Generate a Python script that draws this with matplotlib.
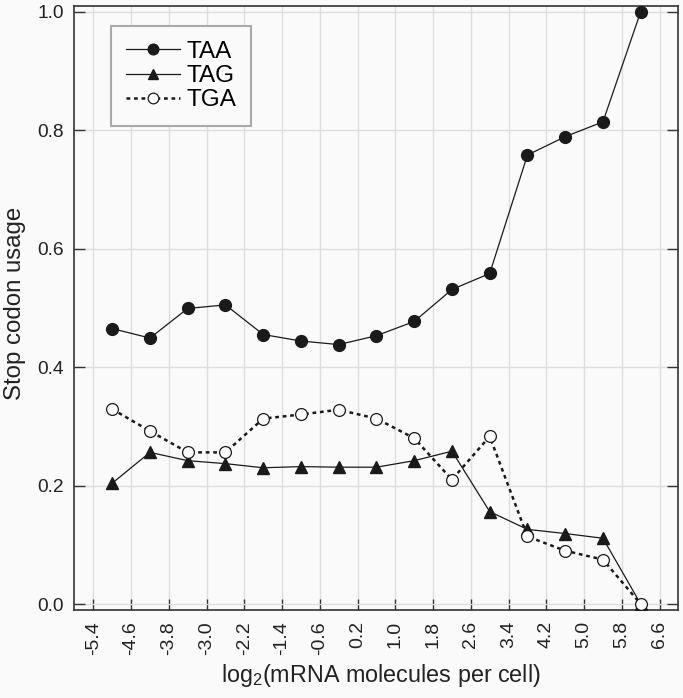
import matplotlib
matplotlib.use("Agg")
import matplotlib.pyplot as plt
from matplotlib import font_manager

plt.rcParams['font.family'] = ['Liberation Sans', 'DejaVu Sans']
plt.rcParams['mathtext.fontset'] = 'custom'
plt.rcParams['mathtext.rm'] = 'Liberation Sans'
plt.rcParams['mathtext.it'] = 'Liberation Sans:italic'

x_bins = [-5.0, -4.2, -3.4, -2.6, -1.8, -1.0, -0.2, 0.6, 1.4, 2.2, 3.0, 3.8, 4.6, 5.4, 6.2]
taa = [0.465, 0.449, 0.499, 0.505, 0.455, 0.444, 0.438, 0.453, 0.477, 0.531, 0.558, 0.758, 0.789, 0.814, 1.0]
tag = [0.204, 0.256, 0.242, 0.237, 0.230, 0.232, 0.231, 0.231, 0.242, 0.258, 0.156, 0.126, 0.119, 0.111, 0.0]
tga = [0.329, 0.292, 0.256, 0.256, 0.313, 0.320, 0.328, 0.313, 0.280, 0.210, 0.283, 0.114, 0.090, 0.075, 0.0]

xtick_vals = [-5.4, -4.6, -3.8, -3.0, -2.2, -1.4, -0.6, 0.2, 1.0, 1.8, 2.6, 3.4, 4.2, 5.0, 5.8, 6.6]
xtick_labels = ["-5.4", "-4.6", "-3.8", "-3.0", "-2.2", "-1.4", "-0.6", "0.2", "1.0", "1.8",
                "2.6", "3.4", "4.2", "5.0", "5.8", "6.6"]
ytick_vals = [0.0, 0.2, 0.4, 0.6, 0.8, 1.0]
ytick_labels = ["0.0", "0.2", "0.4", "0.6", "0.8", "1.0"]

# narrow font for rotated x tick labels if available
names = {f.name for f in font_manager.fontManager.ttflist}
if 'Liberation Sans Narrow' in names:
    xt_family, xt_size = ['Liberation Sans Narrow', 'Liberation Sans'], 15.5
else:
    xt_family, xt_size = ['Liberation Sans', 'DejaVu Sans'], 14

W, H = 683, 698
L, R, T, B = 74, 677.5, 6, 610
bg = "#fafafa"
txt = "#222222"
fig = plt.figure(figsize=(W / 100, H / 100), dpi=100, facecolor=bg)
ax = fig.add_axes([L / W, 1 - B / H, (R - L) / W, (B - T) / H])
ax.set_facecolor(bg)

mk = "#1a1a1a"
ax.plot(x_bins, taa, color=mk, lw=0.9, marker='o', ms=8.5, mfc=mk, mec=mk, label='TAA', zorder=3)
ax.plot(x_bins, tag, color=mk, lw=0.9, marker='^', ms=8.5, mfc=mk, mec=mk, label='TAG', zorder=3)
ax.plot(x_bins, tga, color=mk, lw=1.8, ls=(0, (1.5, 1.5)), marker='o', ms=8.5, mfc='white',
        mec=mk, mew=0.9, label='TGA', zorder=3)

ax.set_xlim(-5.81, 6.98)
ax.set_ylim(-0.0101, 1.0096)
ax.set_xticks(xtick_vals)
ax.set_xticklabels(xtick_labels, rotation=90, family=xt_family, fontsize=xt_size, color=txt)
ax.set_yticks(ytick_vals)
ax.set_yticklabels(ytick_labels, fontsize=13.8, color=txt)
ax.grid(True, color="#dedede", lw=1.0, zorder=0)
ax.set_axisbelow(True)

ax.tick_params(axis='both', direction='in', length=8, width=1.0, color="#333333", pad=8)
ax.tick_params(axis='y', right=True, pad=7.5)
for s in ax.spines.values():
    s.set_color("#333333")
    s.set_linewidth(1.2)

fig.text(15 / W, 1 - 303 / H, "Stop codon usage", rotation=90, ha='center', va='center',
         fontsize=17.3, color=txt)
fig.text(381 / W, 1 - 681.7 / H, r"log$_{\mathrm{2}}$(mRNA molecules per cell)",
         ha='center', va='baseline', fontsize=16.8, color=txt)

leg = ax.legend(loc='upper left', bbox_to_anchor=(37 / (R - L), 1 - 20 / (B - T)), fontsize=17.5,
                frameon=True, fancybox=False, edgecolor="#aaaaaa", facecolor=bg,
                framealpha=1, handlelength=2.25, handletextpad=0.25, borderpad=0.6,
                labelspacing=0.1, markerscale=0.9, borderaxespad=0)
leg.get_frame().set_linewidth(1.5)

fig.savefig("out.png", dpi=100, facecolor=bg)
